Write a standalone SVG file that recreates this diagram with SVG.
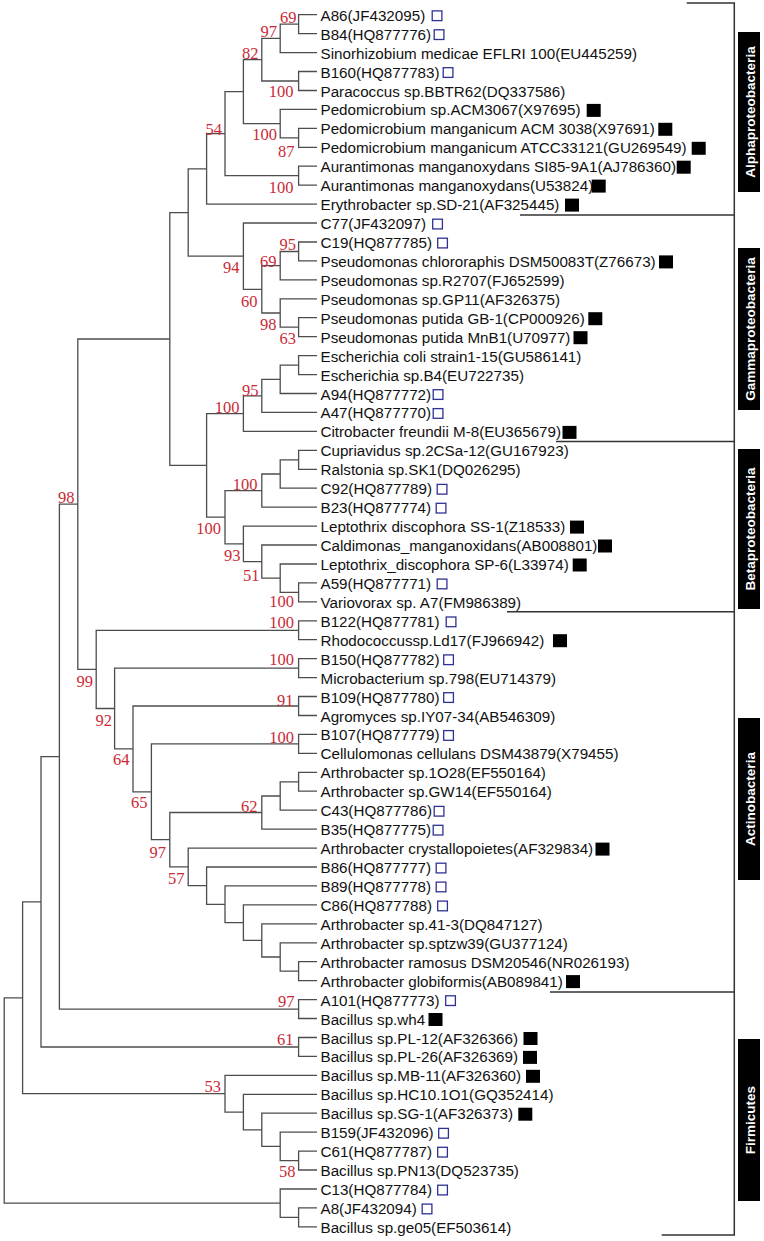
<svg xmlns="http://www.w3.org/2000/svg" width="764" height="1241" viewBox="0 0 764 1241">
<style>
.br{fill:none;stroke:#4d4d4d;stroke-width:1.3}
.lb{font-family:"Liberation Sans",Arial,sans-serif;font-size:15.2px;fill:#111}
.bs{font-family:"Liberation Serif","Times New Roman",serif;font-size:16.5px;fill:#cc2a36;text-anchor:end}
.op{fill:none;stroke:#2e3192;stroke-width:1.3}
.fi{fill:#000}
.cb{fill:#000}
.ct{font-family:"Liberation Sans",Arial,sans-serif;font-weight:bold;font-size:13.5px;fill:#fff;text-anchor:middle}
.bk{fill:none;stroke:#333;stroke-width:1.5}
</style>
<rect width="764" height="1241" fill="#fff"/>
<g id="branches">
<path class="br" d="M317 14.7H298.6V33.6H317"/>
<path class="br" d="M298.6 24.2H280.2V52.6H317"/>
<path class="br" d="M317 71.5H298.6V90.5H317"/>
<path class="br" d="M280.2 38.4H261.8V81H298.6"/>
<path class="br" d="M317 128.3H298.6V147.3H317"/>
<path class="br" d="M317 109.4H280.2V137.8H298.6"/>
<path class="br" d="M261.8 59.7H243.4V123.6H280.2"/>
<path class="br" d="M317 166.2H298.6V185.1H317"/>
<path class="br" d="M243.4 91.7H225V175.7H298.6"/>
<path class="br" d="M225 133.7H206.6V204.1H317"/>
<path class="br" d="M317 242H298.6V260.9H317"/>
<path class="br" d="M298.6 251.5H280.2V279.9H317"/>
<path class="br" d="M317 317.7H298.6V336.7H317"/>
<path class="br" d="M317 298.8H280.2V327.2H298.6"/>
<path class="br" d="M280.2 265.7H261.8V313H280.2"/>
<path class="br" d="M317 223H243.4V289.4H261.8"/>
<path class="br" d="M206.6 168.9H188.2V256.2H243.4"/>
<path class="br" d="M317 355.6H298.6V374.6H317"/>
<path class="br" d="M298.6 365.1H280.2V393.5H317"/>
<path class="br" d="M280.2 379.3H261.8V412.4H317"/>
<path class="br" d="M261.8 395.9H243.4V431.4H317"/>
<path class="br" d="M317 450.3H298.6V469.3H317"/>
<path class="br" d="M298.6 459.8H280.2V488.2H317"/>
<path class="br" d="M280.2 474H261.8V507.1H317"/>
<path class="br" d="M317 582.9H298.6V601.8H317"/>
<path class="br" d="M317 564H280.2V592.4H298.6"/>
<path class="br" d="M317 545H261.8V578.2H280.2"/>
<path class="br" d="M317 526.1H243.4V561.6H261.8"/>
<path class="br" d="M261.8 490.6H225V543.9H243.4"/>
<path class="br" d="M243.4 413.6H206.6V517.2H225"/>
<path class="br" d="M188.2 212.6H169.8V465.4H206.6"/>
<path class="br" d="M317 620.8H298.6V639.7H317"/>
<path class="br" d="M317 658.7H298.6V677.6H317"/>
<path class="br" d="M317 696.5H298.6V715.5H317"/>
<path class="br" d="M317 734.4H298.6V753.4H317"/>
<path class="br" d="M317 772.3H298.6V791.2H317"/>
<path class="br" d="M298.6 781.8H280.2V810.2H317"/>
<path class="br" d="M280.2 796H261.8V829.1H317"/>
<path class="br" d="M317 961.7H298.6V980.6H317"/>
<path class="br" d="M317 942.8H280.2V971.2H298.6"/>
<path class="br" d="M317 923.8H261.8V957H280.2"/>
<path class="br" d="M317 904.9H243.4V940.4H261.8"/>
<path class="br" d="M317 885.9H225V922.6H243.4"/>
<path class="br" d="M317 867H206.6V904.3H225"/>
<path class="br" d="M317 848.1H188.2V885.6H206.6"/>
<path class="br" d="M261.8 812.5H169.8V866.9H188.2"/>
<path class="br" d="M298.6 743.9H151.4V839.7H169.8"/>
<path class="br" d="M298.6 706H133V791.8H151.4"/>
<path class="br" d="M298.6 668.2H114.6V748.9H133"/>
<path class="br" d="M298.6 630.3H96.2V708.5H114.6"/>
<path class="br" d="M169.8 339H77.8V669.4H96.2"/>
<path class="br" d="M317 999.6H298.6V1018.5H317"/>
<path class="br" d="M77.8 504.2H59.4V1009.1H298.6"/>
<path class="br" d="M317 1037.5H298.6V1056.4H317"/>
<path class="br" d="M59.4 756.6H41V1047H298.6"/>
<path class="br" d="M317 1151.1H298.6V1170H317"/>
<path class="br" d="M317 1132.2H280.2V1160.6H298.6"/>
<path class="br" d="M317 1113.2H261.8V1146.4H280.2"/>
<path class="br" d="M317 1094.3H243.4V1129.8H261.8"/>
<path class="br" d="M317 1075.3H225V1112.1H243.4"/>
<path class="br" d="M41 901.8H22.6V1093.7H225"/>
<path class="br" d="M317 1207.9H298.6V1226.9H317"/>
<path class="br" d="M317 1189H280.2V1217.4H298.6"/>
<path class="br" d="M22.6 997.8H4.2V1203.2H280.2"/>
</g>
<g id="bootstrap">
<text class="bs" x="296.5" y="23.3">69</text>
<text class="bs" x="277" y="37.3">97</text>
<text class="bs" x="258.5" y="59.3">82</text>
<text class="bs" x="293.5" y="96.7">100</text>
<text class="bs" x="222" y="135">54</text>
<text class="bs" x="277" y="140">100</text>
<text class="bs" x="294.5" y="157.3">87</text>
<text class="bs" x="293.5" y="193.3">100</text>
<text class="bs" x="296" y="250">95</text>
<text class="bs" x="276.5" y="266.7">69</text>
<text class="bs" x="239.5" y="273.3">94</text>
<text class="bs" x="257.5" y="306.7">60</text>
<text class="bs" x="276.5" y="330">98</text>
<text class="bs" x="296" y="344.3">63</text>
<text class="bs" x="258.5" y="395.7">95</text>
<text class="bs" x="239.5" y="413.3">100</text>
<text class="bs" x="257.5" y="490">100</text>
<text class="bs" x="221" y="534">100</text>
<text class="bs" x="240.5" y="560.7">93</text>
<text class="bs" x="259.5" y="580.7">51</text>
<text class="bs" x="294" y="607.3">100</text>
<text class="bs" x="74.5" y="503.3">98</text>
<text class="bs" x="294" y="628.3">100</text>
<text class="bs" x="294" y="665">100</text>
<text class="bs" x="293.5" y="706">91</text>
<text class="bs" x="294" y="743.3">100</text>
<text class="bs" x="257.5" y="811.7">62</text>
<text class="bs" x="93" y="686.7">99</text>
<text class="bs" x="112" y="726">92</text>
<text class="bs" x="129.5" y="765">64</text>
<text class="bs" x="147.5" y="808.3">65</text>
<text class="bs" x="166" y="858.3">97</text>
<text class="bs" x="184.5" y="884">57</text>
<text class="bs" x="294.5" y="1006.7">97</text>
<text class="bs" x="293.5" y="1045">61</text>
<text class="bs" x="221" y="1091.7">53</text>
<text class="bs" x="295.5" y="1176.7">58</text>
</g>
<g id="leaves">
<g id="leaf1"><text class="lb" x="320.5" y="20.7">A86(JF432095)</text><rect class="op" x="432.2" y="10.9" width="9.7" height="9.7"/></g>
<g id="leaf2"><text class="lb" x="320.5" y="39.6">B84(HQ877776)</text><rect class="op" x="434.2" y="29.8" width="9.7" height="9.7"/></g>
<g id="leaf3"><text class="lb" x="320.5" y="58.6">Sinorhizobium medicae EFLRI 100(EU445259)</text></g>
<g id="leaf4"><text class="lb" x="320.5" y="77.5">B160(HQ877783)</text><rect class="op" x="443.2" y="67.7" width="9.7" height="9.7"/></g>
<g id="leaf5"><text class="lb" x="320.5" y="96.5">Paracoccus sp.BBTR62(DQ337586)</text></g>
<g id="leaf6"><text class="lb" x="320.5" y="115.4">Pedomicrobium sp.ACM3067(X97695)</text><rect class="fi" x="586.7" y="103.9" width="14" height="13"/></g>
<g id="leaf7"><text class="lb" x="320.5" y="134.3">Pedomicrobium manganicum ACM 3038(X97691)</text><rect class="fi" x="658.3" y="122.8" width="14" height="13"/></g>
<g id="leaf8"><text class="lb" x="320.5" y="153.3">Pedomicrobium manganicum ATCC33121(GU269549)</text><rect class="fi" x="691.7" y="141.8" width="14" height="13"/></g>
<g id="leaf9"><text class="lb" x="320.5" y="172.2">Aurantimonas manganoxydans SI85-9A1(AJ786360)</text><rect class="fi" x="676.7" y="160.7" width="14" height="13"/></g>
<g id="leaf10"><text class="lb" x="320.5" y="191.1">Aurantimonas manganoxydans(U53824)</text><rect class="fi" x="591.7" y="179.6" width="14" height="13"/></g>
<g id="leaf11"><text class="lb" x="320.5" y="210.1">Erythrobacter sp.SD-21(AF325445)</text><rect class="fi" x="565" y="198.6" width="14" height="13"/></g>
<g id="leaf12"><text class="lb" x="320.5" y="229">C77(JF432097)</text><rect class="op" x="432.7" y="219.2" width="9.7" height="9.7"/></g>
<g id="leaf13"><text class="lb" x="320.5" y="248">C19(HQ877785)</text><rect class="op" x="437.7" y="238.2" width="9.7" height="9.7"/></g>
<g id="leaf14"><text class="lb" x="320.5" y="266.9">Pseudomonas chlororaphis DSM50083T(Z76673)</text><rect class="fi" x="659" y="255.4" width="14" height="13"/></g>
<g id="leaf15"><text class="lb" x="320.5" y="285.9">Pseudomonas sp.R2707(FJ652599)</text></g>
<g id="leaf16"><text class="lb" x="320.5" y="304.8">Pseudomonas sp.GP11(AF326375)</text></g>
<g id="leaf17"><text class="lb" x="320.5" y="323.7">Pseudomonas putida GB-1(CP000926)</text><rect class="fi" x="588.3" y="312.2" width="14" height="13"/></g>
<g id="leaf18"><text class="lb" x="320.5" y="342.7">Pseudomonas putida MnB1(U70977)</text><rect class="fi" x="573.5" y="331.2" width="14" height="13"/></g>
<g id="leaf19"><text class="lb" x="320.5" y="361.6">Escherichia coli strain1-15(GU586141)</text></g>
<g id="leaf20"><text class="lb" x="320.5" y="380.6">Escherichia sp.B4(EU722735)</text></g>
<g id="leaf21"><text class="lb" x="320.5" y="399.5">A94(HQ877772)</text><rect class="op" x="433.2" y="389.7" width="9.7" height="9.7"/></g>
<g id="leaf22"><text class="lb" x="320.5" y="418.4">A47(HQ877770)</text><rect class="op" x="433.2" y="408.6" width="9.7" height="9.7"/></g>
<g id="leaf23"><text class="lb" x="320.5" y="437.4">Citrobacter freundii M-8(EU365679)</text><rect class="fi" x="562.5" y="425.9" width="14" height="13"/></g>
<g id="leaf24"><text class="lb" x="320.5" y="456.3">Cupriavidus sp.2CSa-12(GU167923)</text></g>
<g id="leaf25"><text class="lb" x="320.5" y="475.3">Ralstonia sp.SK1(DQ026295)</text></g>
<g id="leaf26"><text class="lb" x="320.5" y="494.2">C92(HQ877789)</text><rect class="op" x="437.2" y="484.4" width="9.7" height="9.7"/></g>
<g id="leaf27"><text class="lb" x="320.5" y="513.1">B23(HQ877774)</text><rect class="op" x="436.2" y="503.3" width="9.7" height="9.7"/></g>
<g id="leaf28"><text class="lb" x="320.5" y="532.1">Leptothrix discophora SS-1(Z18533)</text><rect class="fi" x="570" y="520.6" width="14" height="13"/></g>
<g id="leaf29"><text class="lb" x="320.5" y="551">Caldimonas_manganoxidans(AB008801)</text><rect class="fi" x="598" y="539.5" width="14" height="13"/></g>
<g id="leaf30"><text class="lb" x="320.5" y="570">Leptothrix_discophora SP-6(L33974)</text><rect class="fi" x="572.7" y="558.5" width="14" height="13"/></g>
<g id="leaf31"><text class="lb" x="320.5" y="588.9">A59(HQ877771)</text><rect class="op" x="437.2" y="579.1" width="9.7" height="9.7"/></g>
<g id="leaf32"><text class="lb" x="320.5" y="607.8">Variovorax sp. A7(FM986389)</text></g>
<g id="leaf33"><text class="lb" x="320.5" y="626.8">B122(HQ877781)</text><rect class="op" x="446.2" y="617" width="9.7" height="9.7"/></g>
<g id="leaf34"><text class="lb" x="320.5" y="645.7">Rhodococcussp.Ld17(FJ966942)</text><rect class="fi" x="553" y="634.2" width="14" height="13"/></g>
<g id="leaf35"><text class="lb" x="320.5" y="664.7">B150(HQ877782)</text><rect class="op" x="443.7" y="654.9" width="9.7" height="9.7"/></g>
<g id="leaf36"><text class="lb" x="320.5" y="683.6">Microbacterium sp.798(EU714379)</text></g>
<g id="leaf37"><text class="lb" x="320.5" y="702.5">B109(HQ877780)</text><rect class="op" x="443.7" y="692.7" width="9.7" height="9.7"/></g>
<g id="leaf38"><text class="lb" x="320.5" y="721.5">Agromyces sp.IY07-34(AB546309)</text></g>
<g id="leaf39"><text class="lb" x="320.5" y="740.4">B107(HQ877779)</text><rect class="op" x="443.7" y="730.6" width="9.7" height="9.7"/></g>
<g id="leaf40"><text class="lb" x="320.5" y="759.4">Cellulomonas cellulans DSM43879(X79455)</text></g>
<g id="leaf41"><text class="lb" x="320.5" y="778.3">Arthrobacter sp.1O28(EF550164)</text></g>
<g id="leaf42"><text class="lb" x="320.5" y="797.2">Arthrobacter sp.GW14(EF550164)</text></g>
<g id="leaf43"><text class="lb" x="320.5" y="816.2">C43(HQ877786)</text><rect class="op" x="434.2" y="806.4" width="9.7" height="9.7"/></g>
<g id="leaf44"><text class="lb" x="320.5" y="835.1">B35(HQ877775)</text><rect class="op" x="433.2" y="825.3" width="9.7" height="9.7"/></g>
<g id="leaf45"><text class="lb" x="320.5" y="854.1">Arthrobacter crystallopoietes(AF329834)</text><rect class="fi" x="595.5" y="842.6" width="14" height="13"/></g>
<g id="leaf46"><text class="lb" x="320.5" y="873">B86(HQ877777)</text><rect class="op" x="436.2" y="863.2" width="9.7" height="9.7"/></g>
<g id="leaf47"><text class="lb" x="320.5" y="891.9">B89(HQ877778)</text><rect class="op" x="436.2" y="882.1" width="9.7" height="9.7"/></g>
<g id="leaf48"><text class="lb" x="320.5" y="910.9">C86(HQ877788)</text><rect class="op" x="437.7" y="901.1" width="9.7" height="9.7"/></g>
<g id="leaf49"><text class="lb" x="320.5" y="929.8">Arthrobacter sp.41-3(DQ847127)</text></g>
<g id="leaf50"><text class="lb" x="320.5" y="948.8">Arthrobacter sp.sptzw39(GU377124)</text></g>
<g id="leaf51"><text class="lb" x="320.5" y="967.7">Arthrobacter ramosus DSM20546(NR026193)</text></g>
<g id="leaf52"><text class="lb" x="320.5" y="986.6">Arthrobacter globiformis(AB089841)</text><rect class="fi" x="566" y="975.1" width="14" height="13"/></g>
<g id="leaf53"><text class="lb" x="320.5" y="1005.6">A101(HQ877773)</text><rect class="op" x="445.7" y="995.8" width="9.7" height="9.7"/></g>
<g id="leaf54"><text class="lb" x="320.5" y="1024.5">Bacillus sp.wh4</text><rect class="fi" x="428.5" y="1013" width="14" height="13"/></g>
<g id="leaf55"><text class="lb" x="320.5" y="1043.5">Bacillus sp.PL-12(AF326366)</text><rect class="fi" x="523.5" y="1032" width="14" height="13"/></g>
<g id="leaf56"><text class="lb" x="320.5" y="1062.4">Bacillus sp.PL-26(AF326369)</text><rect class="fi" x="523" y="1050.9" width="14" height="13"/></g>
<g id="leaf57"><text class="lb" x="320.5" y="1081.3">Bacillus sp.MB-11(AF326360)</text><rect class="fi" x="526" y="1069.8" width="14" height="13"/></g>
<g id="leaf58"><text class="lb" x="320.5" y="1100.3">Bacillus sp.HC10.1O1(GQ352414)</text></g>
<g id="leaf59"><text class="lb" x="320.5" y="1119.2">Bacillus sp.SG-1(AF326373)</text><rect class="fi" x="518.3" y="1107.7" width="14" height="13"/></g>
<g id="leaf60"><text class="lb" x="320.5" y="1138.2">B159(JF432096)</text><rect class="op" x="438.7" y="1128.4" width="9.7" height="9.7"/></g>
<g id="leaf61"><text class="lb" x="320.5" y="1157.1">C61(HQ877787)</text><rect class="op" x="437.7" y="1147.3" width="9.7" height="9.7"/></g>
<g id="leaf62"><text class="lb" x="320.5" y="1176">Bacillus sp.PN13(DQ523735)</text></g>
<g id="leaf63"><text class="lb" x="320.5" y="1195">C13(HQ877784)</text><rect class="op" x="437.7" y="1185.2" width="9.7" height="9.7"/></g>
<g id="leaf64"><text class="lb" x="320.5" y="1213.9">A8(JF432094)</text><rect class="op" x="422.2" y="1204.1" width="9.7" height="9.7"/></g>
<g id="leaf65"><text class="lb" x="320.5" y="1232.9">Bacillus sp.ge05(EF503614)</text></g>
</g>
<g id="bracket">
<path class="bk" d="M686.7 3H734.3V1235H661.7"/>
<path class="bk" d="M520 215H734.3"/>
<path class="bk" d="M556 441.5H734.3"/>
<path class="bk" d="M507 611.8H734.3"/>
<path class="bk" d="M550 992H734.3"/>
</g>
<g id="clade-alpha"><rect class="cb" x="738" y="32" width="22" height="160"/><text class="ct" transform="translate(749.5,112) rotate(-90)" dy="5">Alphaproteobacteria</text></g>
<g id="clade-gamma"><rect class="cb" x="738" y="248" width="22" height="162"/><text class="ct" transform="translate(749.5,329) rotate(-90)" dy="5">Gammaproteobacteria</text></g>
<g id="clade-beta"><rect class="cb" x="738" y="449" width="22" height="160"/><text class="ct" transform="translate(749.5,529) rotate(-90)" dy="5">Betaproteobacteria</text></g>
<g id="clade-actino"><rect class="cb" x="738" y="718" width="22" height="162"/><text class="ct" transform="translate(749.5,799) rotate(-90)" dy="5">Actinobacteria</text></g>
<g id="clade-firmicutes"><rect class="cb" x="738" y="1039" width="22" height="162"/><text class="ct" transform="translate(749.5,1120) rotate(-90)" dy="5">Firmicutes</text></g>
</svg>
